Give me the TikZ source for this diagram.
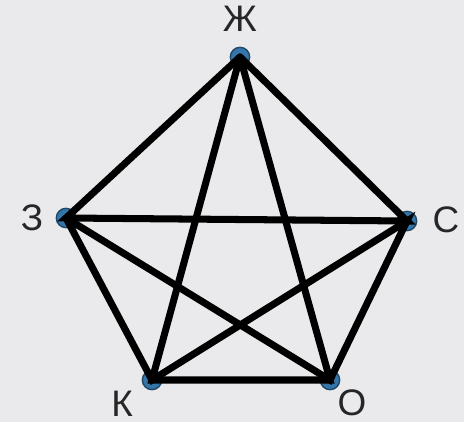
\documentclass[tikz,border=0pt]{standalone}
\usepackage{fontspec}
\setmainfont{Liberation Sans}
\definecolor{dotblue}{RGB}{52,118,170}
\definecolor{bggray}{RGB}{234,234,236}

\begin{document}
\begin{tikzpicture}[scale=1,
  vert/.style={circle, fill=dotblue, draw=dotblue!60!black, line width=0.8pt, inner sep=0pt, minimum size=11pt},
  lbl/.style={font=\fontsize{21}{24}\selectfont, text=black!85},
  edge/.style={line width=4pt, line cap=round}]
\fill[bggray] (0,0) rectangle (9.28,8.44);
\useasboundingbox (0,0) rectangle (9.28,8.44);
% vertices
\node[vert] (zh) at (4.80,7.30) {};
\node[vert] (z) at (1.32,4.08) {};
\node[vert] (s) at (8.14,4.02) {};
\node[vert] (k) at (3.04,0.84) {};
\node[vert] (o) at (6.60,0.84) {};
% edges
\draw[edge] (zh.center) -- (z.center) -- (s.center) -- (zh.center);
\draw[edge] (zh.center) -- (k.center) -- (o.center) -- (zh.center);
\draw[edge] (z.center) -- (k.center) -- (s.center) -- (o.center) -- (z.center);
% labels
\node[lbl] (zhl) at (4.80,8.06) {Ж};
\node[lbl] (zl) at (0.64,4.08) {З};
\node[lbl] (sl) at (8.92,4.04) {С};
\node[lbl] (kl) at (2.44,0.36) {К};
\node[lbl] (ol) at (7.04,0.38) {О};
\end{tikzpicture}
\end{document}
